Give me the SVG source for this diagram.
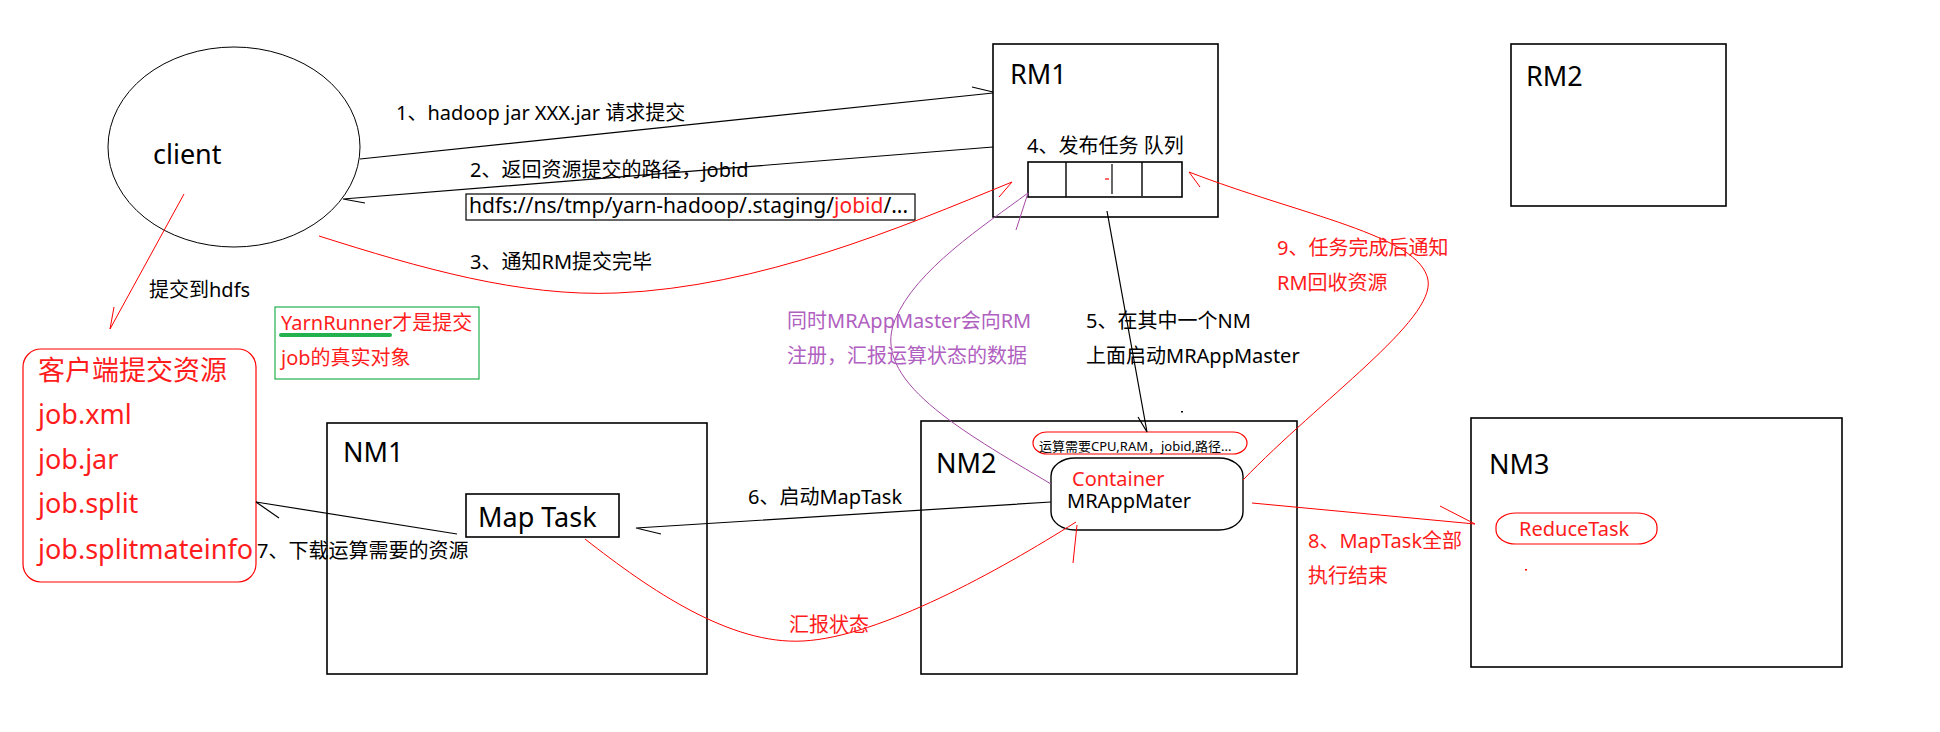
<svg xmlns="http://www.w3.org/2000/svg" width="1940" height="732" viewBox="0 0 1940 732">
<style>
text{font-family:"Noto Sans","Noto Sans CJK SC",sans-serif;fill:#000}
.big{font-size:27px}
.lbl{font-size:20px}
.red{fill:#ff1c1c}
.pur{fill:#b060c0}
.box{fill:#fff;stroke:#000;stroke-width:1.6}
.ln{fill:none;stroke:#000;stroke-width:1.2}
.rl{fill:none;stroke:#ff0000;stroke-width:1}
.pl{fill:none;stroke:#a349a4;stroke-width:1}
</style>
<rect width="1940" height="732" fill="#fff"/>

<g id="client">
<ellipse cx="234" cy="147" rx="126" ry="100" fill="none" stroke="#000" stroke-width="1"/>
<text class="big" x="153" y="164">client</text>
</g>

<g id="rm1">
<rect class="box" x="993" y="44" width="225" height="173"/>
<text class="big" x="1010" y="84">RM1</text>
<text class="lbl" x="1027" y="153">4、发布任务 队列</text>
<rect x="1028" y="162" width="154" height="35" fill="none" stroke="#000" stroke-width="1.6"/>
<line x1="1066" y1="162" x2="1066" y2="197" stroke="#000" stroke-width="1.4"/>
<line x1="1112" y1="164" x2="1112" y2="194" stroke="#000" stroke-width="1.2"/>
<line x1="1142" y1="162" x2="1142" y2="196" stroke="#000" stroke-width="1.4"/>
<line x1="1105" y1="179" x2="1109" y2="179" stroke="#ff0000" stroke-width="1.2"/>
</g>

<g id="rm2">
<rect class="box" x="1511" y="44" width="215" height="162"/>
<text class="big" x="1526" y="86">RM2</text>
</g>

<g id="resources">
<rect x="23" y="349" width="233" height="233" rx="18" ry="18" fill="none" stroke="#ff0000" stroke-width="1.2"/>
<text class="big red" x="38" y="380">客户端提交资源</text>
<text class="big red" x="38" y="424">job.xml</text>
<text class="big red" x="38" y="469">job.jar</text>
<text class="big red" x="38" y="513">job.split</text>
<text class="big red" x="38" y="559">job.splitmateinfo</text>
</g>

<g id="yarnrunner">
<rect x="275" y="307" width="204" height="72" fill="none" stroke="#22b14c" stroke-width="1.2"/>
<text class="lbl red" x="281" y="330">YarnRunner才是提交</text>
<line x1="281" y1="335" x2="390" y2="335" stroke="#22b14c" stroke-width="4" stroke-linecap="round"/>
<text class="lbl red" x="281" y="365">job的真实对象</text>
</g>

<g id="nm1">
<rect class="box" x="327" y="423" width="380" height="251"/>
<text class="big" x="343" y="462">NM1</text>
<rect class="box" x="466" y="494" width="153" height="43"/>
<text class="big" x="478" y="527">Map Task</text>
</g>

<g id="nm2">
<rect class="box" x="921" y="421" width="376" height="253"/>
<text class="big" x="936" y="473">NM2</text>
<rect x="1033" y="432" width="214" height="22" rx="14" ry="11" fill="#fff" stroke="#ff0000" stroke-width="1.2"/>
<text x="1039" y="451" style="font-size:13px">运算需要CPU,RAM，jobid,路径...</text>
<rect x="1051" y="458" width="192" height="72" rx="24" ry="18" fill="#fff" stroke="#000" stroke-width="1.4"/>
<text class="lbl red" x="1072" y="486">Container</text>
<text class="lbl" x="1067" y="508">MRAppMater</text>
</g>

<g id="nm3">
<rect class="box" x="1471" y="418" width="371" height="249"/>
<text class="big" x="1489" y="474">NM3</text>
<rect x="1496" y="513" width="161" height="31" rx="20" ry="14" fill="none" stroke="#ff0000" stroke-width="1.2"/>
<text class="lbl red" x="1519" y="536">ReduceTask</text>
<rect x="1525" y="569" width="2" height="1.5" fill="#ff0000"/>
</g>

<g id="connectors">
<!-- 1 -->
<path class="ln" d="M360,159 L993,93 M972,87 L993,92"/>
<text class="lbl" x="396" y="120">1、hadoop jar XXX.jar 请求提交</text>
<!-- 2 -->
<path class="ln" d="M993,147 L343,199 L365,203"/>
<text class="lbl" x="470" y="177">2、返回资源提交的路径，jobid</text>
<rect x="466" y="194" width="449" height="26" fill="none" stroke="#000" stroke-width="1.2"/>
<text x="469" y="213" style="font-size:21px">hdfs://ns/tmp/yarn-hadoop/.staging/<tspan class="red">jobid</tspan>/...</text>
<!-- 3 -->
<path class="rl" d="M319,236 C420,268 520,297 617,293 C760,287 900,228 1012,182 L999,197"/>
<text class="lbl" x="470" y="269">3、通知RM提交完毕</text>
<!-- submit to hdfs -->
<path class="rl" d="M184,194 L110,329 L114,307"/>
<text class="lbl" x="149" y="297">提交到hdfs</text>
<!-- 5 -->
<path class="ln" d="M1107,211 L1147,432 L1138,417"/>
<text class="lbl" x="1086" y="328">5、在其中一个NM</text>
<text class="lbl" x="1086" y="363">上面启动MRAppMaster</text>
<rect x="1181" y="411" width="2" height="1.5" fill="#000"/>
<!-- purple -->
<path class="pl" d="M1051,484 C960,430 870,380 895,320 C915,270 985,225 1028,193 L1016,230"/>
<text class="lbl pur" x="787" y="328">同时MRAppMaster会向RM</text>
<text class="lbl pur" x="787" y="363">注册，汇报运算状态的数据</text>
<!-- 6 -->
<path class="ln" d="M1051,502 L636,528 L661,534"/>
<text class="lbl" x="748" y="504">6、启动MapTask</text>
<!-- 7 -->
<path class="ln" d="M457,534 L256,502 L279,518"/>
<text class="lbl" x="257" y="558">7、下载运算需要的资源</text>
<!-- report status -->
<path class="rl" d="M585,539 C650,590 730,645 803,641 C880,637 1000,570 1076,522 M1077,525 L1073,563"/>
<text class="lbl red" x="789" y="632">汇报状态</text>
<!-- 8 -->
<path class="rl" d="M1252,503 L1475,524 L1440,506"/>
<text class="lbl red" x="1308" y="548">8、MapTask全部</text>
<text class="lbl red" x="1308" y="583">执行结束</text>
<!-- 9 -->
<path class="rl" d="M1243,480 C1320,400 1435,320 1428,280 C1420,235 1300,215 1189,172 L1200,187"/>
<text class="lbl red" x="1277" y="255">9、任务完成后通知</text>
<text class="lbl red" x="1277" y="290">RM回收资源</text>
</g>
</svg>
